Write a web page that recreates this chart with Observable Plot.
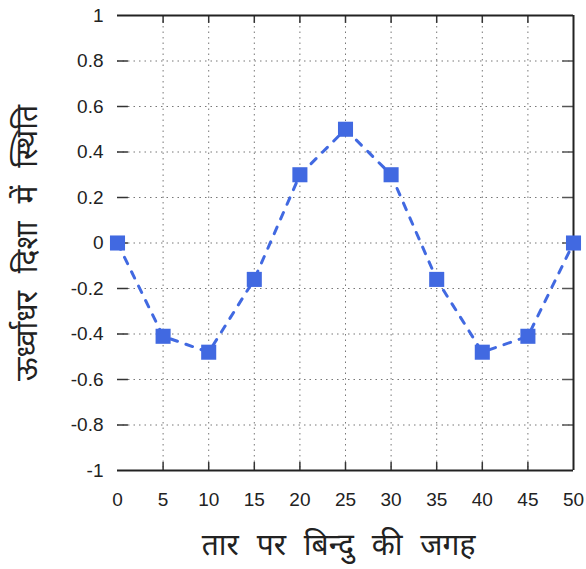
<!DOCTYPE html>
<html><head><meta charset="utf-8">
<script src="https://cdn.jsdelivr.net/npm/d3@7"></script>
<script src="https://cdn.jsdelivr.net/npm/@observablehq/plot@0.6"></script>
<style>body{margin:0;background:#fff;} svg{display:block;} .lbl text{word-spacing:10px;}</style>
</head><body><div id="chart"></div>
<script>
const positions = [0, 5, 10, 15, 20, 25, 30, 35, 40, 45, 50];
const displacement = [0, -0.41, -0.48, -0.16, 0.30, 0.50, 0.30, -0.16, -0.48, -0.41, 0];
const xTicks = [0, 5, 10, 15, 20, 25, 30, 35, 40, 45, 50];
const yTicks = [-1, -0.8, -0.6, -0.4, -0.2, 0, 0.2, 0.4, 0.6, 0.8, 1];
const xLabel = "तार पर बिन्दु की जगह";
const yLabel = "ऊर्ध्वाधर दिशा में स्थिति";

const data = positions.map((x, i) => ({x, y: displacement[i]}));
const blue = "#4169e1";
const innerX = xTicks.slice(1, -1);
const innerY = yTicks.slice(1, -1);

const chart = Plot.plot({
  width: 586, height: 569,
  marginLeft: 117, marginRight: 13, marginTop: 15, marginBottom: 99,
  style: {fontFamily: "'Liberation Sans', Arial, sans-serif", fontSize: "19px", color: "#222", background: "#fff"},
  x: {domain: [0, 50]},
  y: {domain: [-1, 1]},
  marks: [
    Plot.ruleX(innerX, {stroke: "#777", strokeDasharray: "1.5,4", strokeWidth: 1}),
    Plot.ruleY(innerY, {stroke: "#777", strokeDasharray: "1.5,4", strokeWidth: 1}),
    Plot.axisX({anchor: "bottom", ticks: xTicks, tickSize: 0, tickPadding: 22, label: null, tickFormat: d => String(d)}),
    Plot.axisY({anchor: "left", ticks: yTicks, tickSize: 0, tickPadding: 14, label: null, tickFormat: d => String(d)}),
    Plot.ruleX(innerX, {y1: -1, y2: -0.965, stroke: "#333", strokeWidth: 1.5}),
    Plot.ruleX(innerX, {y1: 1, y2: 0.965, stroke: "#333", strokeWidth: 1.5}),
    Plot.ruleY(innerY, {x1: 0, x2: 1.2, stroke: "#333", strokeWidth: 1.5}),
    Plot.ruleY(innerY, {x1: 50, x2: 48.8, stroke: "#555", strokeWidth: 1.5}),
    Plot.ruleY([1, -1], {stroke: "#222", strokeWidth: 2}),
    Plot.ruleX([50], {stroke: "#222", strokeWidth: 2}),
    Plot.line(data, {x: "x", y: "y", stroke: blue, strokeWidth: 3, strokeDasharray: "7,9"}),
    Plot.dot(data, {x: "x", y: "y", symbol: "square", r: 8.5, fill: blue, stroke: "none"}),
    Plot.text([xLabel], {frameAnchor: "bottom", dy: 84, dx: -7, textAnchor: "middle", fontSize: 30, fill: "#222", fontFamily: "'Noto Sans', sans-serif", className: "lbl"}),
    Plot.text([yLabel], {frameAnchor: "left", dx: -90, textAnchor: "middle", rotate: -90, fontSize: 30, fill: "#222", fontFamily: "'Noto Sans', sans-serif", className: "lbl"})
  ]
});
document.getElementById("chart").appendChild(chart);
</script>
</body></html>
